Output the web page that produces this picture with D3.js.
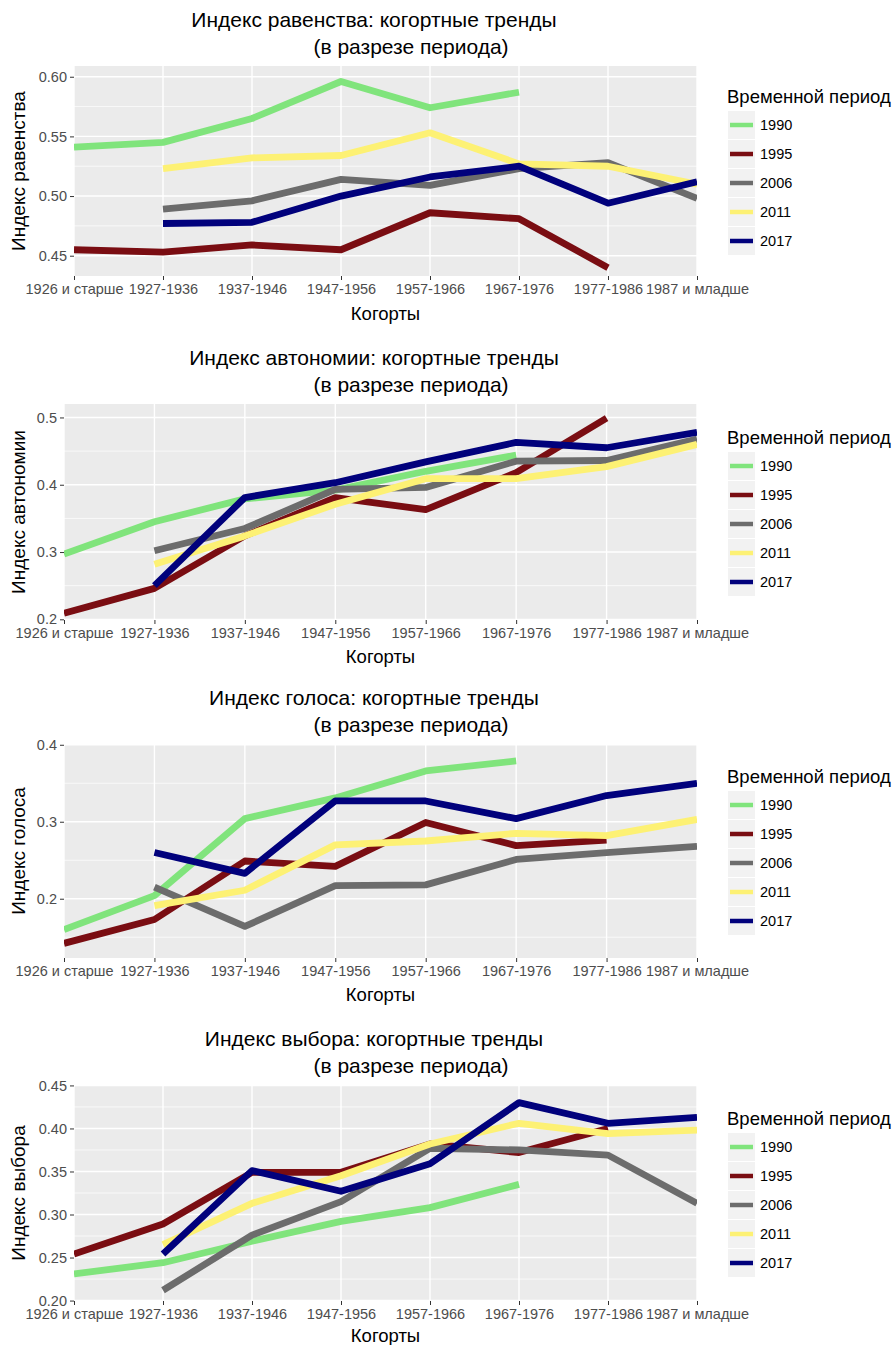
<!DOCTYPE html>
<html><head><meta charset="utf-8">
<script src="https://cdn.jsdelivr.net/npm/d3@7"></script>
<style>
html,body{margin:0;padding:0;background:#fff;}
svg{display:block;font-family:"Liberation Sans",Arial,Helvetica,sans-serif;}
</style></head>
<body><svg id="chart" width="893" height="1345"></svg>
<script>
// ---------- DATA ----------
const categories = ["1926 и старше","1927-1936","1937-1946","1947-1956","1957-1966","1967-1976","1977-1986","1987 и младше"];
const periods = ["1990","1995","2006","2011","2017"];
const periodColors = ["#80e47c","#7a0d12","#6c6c6c","#fdf174","#01017c"];

const titles = ["Индекс равенства: когортные тренды","Индекс автономии: когортные тренды","Индекс голоса: когортные тренды","Индекс выбора: когортные тренды"];
const subtitle = "(в разрезе периода)";
const yTitles = ["Индекс равенства","Индекс автономии","Индекс голоса","Индекс выбора"];
const xTitle = "Когорты";
const legendTitle = "Временной период";

// series order: 1990, 1995, 2006, 2011, 2017 (null = no data)
const equality = [
  [0.541,0.545,0.565,0.596,0.574,0.587,null,null],
  [0.455,0.453,0.459,0.455,0.486,0.481,0.440,null],
  [null,0.489,0.496,0.514,0.509,0.523,0.528,0.498],
  [null,0.523,0.532,0.534,0.553,0.527,0.525,0.510],
  [null,0.477,0.478,0.500,0.516,0.525,0.494,0.512]
];
const autonomy = [
  [0.297,0.345,0.379,0.392,0.420,0.444,null,null],
  [0.209,0.246,0.324,0.381,0.363,0.418,0.499,null],
  [null,0.302,0.335,0.393,0.396,0.435,0.436,0.468],
  [null,0.282,0.324,0.371,0.409,0.409,0.427,0.460],
  [null,0.250,0.381,0.403,0.434,0.463,0.455,0.478]
];
const voice = [
  [0.160,0.204,0.304,0.331,0.366,0.379,null,null],
  [0.142,0.173,0.249,0.242,0.299,0.269,0.276,null],
  [null,0.215,0.164,0.217,0.218,0.251,0.260,0.268],
  [null,0.191,0.211,0.270,0.275,0.285,0.282,0.303],
  [null,0.260,0.233,0.327,0.327,0.304,0.334,0.350]
];
const choice = [
  [0.231,0.244,0.269,0.292,0.308,0.335,null,null],
  [0.254,0.289,0.349,0.349,0.382,0.372,0.400,null],
  [null,0.212,0.276,0.315,0.377,0.375,0.369,0.313],
  [null,0.265,0.313,0.345,0.382,0.406,0.394,0.398],
  [null,0.254,0.351,0.327,0.359,0.430,0.406,0.413]
];

const yTicks1 = [0.45,0.50,0.55,0.60];
const yTicks2 = [0.2,0.3,0.4,0.5];
const yTicks3 = [0.2,0.3,0.4];
const yTicks4 = [0.20,0.25,0.30,0.35,0.40,0.45];
const yTickFormats = [".2f",".1f",".1f",".2f"];
const yDomains = [[0.433,0.609],[0.199,0.520],[0.123,0.401],[0.1995,0.4505]];

// ---------- LAYOUT ----------
const layout = [
  {top:66,  bottom:276,  left:74, xt:38},
  {top:404, bottom:620,  left:64, xt:37},
  {top:744, bottom:958,  left:64, xt:37},
  {top:1085,bottom:1301, left:74, xt:35}
];
const panelRight = 697;
const datasets = [equality, autonomy, voice, choice];
const yTickSets = [yTicks1, yTicks2, yTicks3, yTicks4];

const svg = d3.select("#chart");

datasets.forEach((data, p) => {
  const L = layout[p];
  const g = svg.append("g");
  const x = d3.scalePoint().domain(categories).range([L.left, panelRight]).padding(0);
  const y = d3.scaleLinear().domain(yDomains[p]).range([L.bottom, L.top]);
  const ticks = yTickSets[p];
  const step = ticks[1]-ticks[0];

  g.append("rect").attr("x",L.left).attr("y",L.top)
    .attr("width",panelRight-L.left).attr("height",L.bottom-L.top).attr("fill","#ebebeb");

  const minor = [];
  for (let i=-1;i<ticks.length;i++){
    const v = ticks[0] + step*(i+0.5);
    if (v>yDomains[p][0] && v<yDomains[p][1]) minor.push(v);
  }
  g.selectAll(".minor").data(minor).enter().append("line")
    .attr("x1",L.left).attr("x2",panelRight)
    .attr("y1",d=>y(d)).attr("y2",d=>y(d))
    .attr("stroke","#fff").attr("stroke-width",0.7);
  g.selectAll(".majorH").data(ticks).enter().append("line")
    .attr("x1",L.left).attr("x2",panelRight)
    .attr("y1",d=>y(d)).attr("y2",d=>y(d))
    .attr("stroke","#fff").attr("stroke-width",1.4);
  g.selectAll(".majorV").data(categories).enter().append("line")
    .attr("x1",d=>x(d)).attr("x2",d=>x(d))
    .attr("y1",L.top).attr("y2",L.bottom)
    .attr("stroke","#fff").attr("stroke-width",1.4);

  const clipId = "clip"+p;
  svg.append("clipPath").attr("id",clipId).append("rect")
    .attr("x",L.left).attr("y",L.top).attr("width",panelRight-L.left).attr("height",L.bottom-L.top);

  const line = d3.line()
    .defined(d=>d.v!=null)
    .x(d=>x(d.c)).y(d=>y(d.v));

  const lines = g.append("g").attr("clip-path",`url(#${clipId})`);
  data.forEach((series, s) => {
    const pts = series.map((v,i)=>({c:categories[i], v}));
    lines.append("path").attr("d",line(pts))
      .attr("fill","none").attr("stroke",periodColors[s])
      .attr("stroke-width",6.8).attr("stroke-linejoin","round").attr("stroke-linecap","butt");
  });

  const yAxis = d3.axisLeft(y).tickValues(ticks).tickFormat(d3.format(yTickFormats[p])).tickSize(4).tickPadding(3);
  const ya = g.append("g").attr("transform",`translate(${L.left},0)`).call(yAxis);
  ya.select(".domain").remove();
  ya.selectAll("line").attr("stroke","#333");
  ya.selectAll("text").attr("fill","#4d4d4d").style("font-size","14.5px");

  const xAxis = d3.axisBottom(x).tickSize(4).tickPadding(4);
  const xa = g.append("g").attr("transform",`translate(0,${L.bottom})`).call(xAxis);
  xa.select(".domain").remove();
  xa.selectAll("line").attr("stroke","#333");
  xa.selectAll("text").attr("fill","#4d4d4d").style("font-size","14.5px");

  const pc = (L.left+panelRight)/2;
  g.append("text").attr("x",pc).attr("y",L.bottom+L.xt).attr("text-anchor","middle")
    .attr("dy","0.35em").style("font-size","18.5px").attr("fill","#000").text(xTitle);
  g.append("text").attr("transform",`translate(18,${(L.top+L.bottom)/2}) rotate(-90)`)
    .attr("text-anchor","middle").attr("dy","0.35em").style("font-size","19px").attr("fill","#000").text(yTitles[p]);

  g.append("text").attr("x",374).attr("y",L.top-46).attr("dy","0.35em").attr("text-anchor","middle")
    .style("font-size","21px").attr("fill","#000").text(titles[p]);
  g.append("text").attr("x",411).attr("y",L.top-19).attr("dy","0.35em").attr("text-anchor","middle")
    .style("font-size","21px").attr("fill","#000").text(subtitle);

  const mid = (L.top+L.bottom)/2;
  const keyH = 29;
  const legTop = mid - (24 + keyH*periods.length)/2;
  const lg = g.append("g");
  lg.append("text").attr("x",727).attr("y",legTop+10).attr("dy","0.35em")
    .style("font-size","18.5px").attr("fill","#000").text(legendTitle);
  periods.forEach((per,i)=>{
    const cy = legTop + 24 + keyH*i + keyH/2;
    lg.append("rect").attr("x",728).attr("y",cy-14).attr("width",27).attr("height",28).attr("fill","#f2f2f2");
    lg.append("line").attr("x1",730).attr("x2",753).attr("y1",cy).attr("y2",cy)
      .attr("stroke",periodColors[i]).attr("stroke-width",4.5);
    lg.append("text").attr("x",760).attr("y",cy).attr("dy","0.35em")
      .style("font-size","14.5px").attr("fill","#000").text(per);
  });
});
</script>
</body></html>
